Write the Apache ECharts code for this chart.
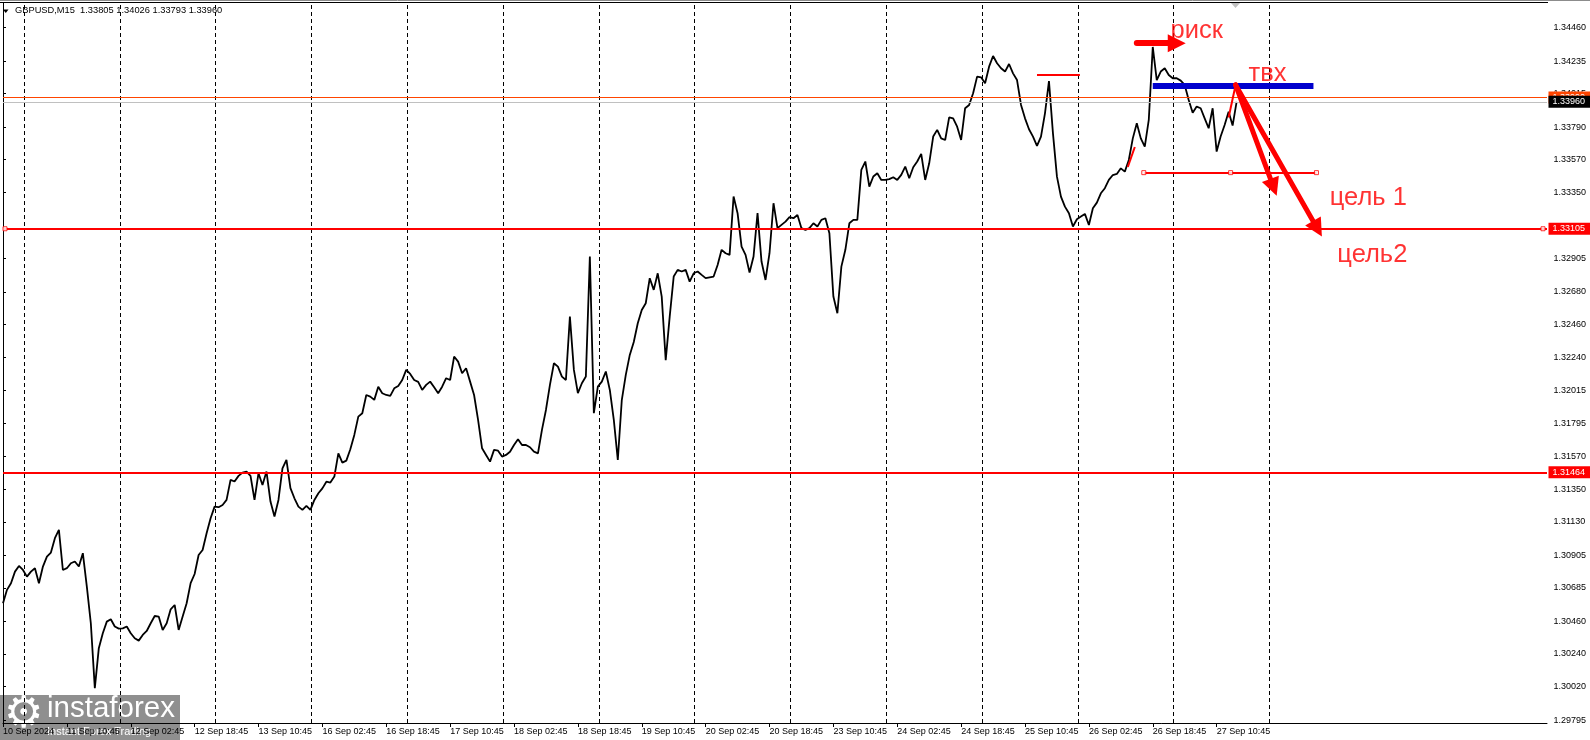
<!DOCTYPE html>
<html><head><meta charset="utf-8">
<script src="https://cdn.jsdelivr.net/npm/echarts@6/dist/echarts.min.js"></script>
<style>html,body{margin:0;padding:0;background:#fff;overflow:hidden}#c{width:1590px;height:740px}</style>
</head><body><div id="c"></div>
<script>
// ---------- data ----------
const symbolTitle = 'GBPUSD,M15';
const lastBarOHLC = [1.33805, 1.34026, 1.33793, 1.33960];
const barStep = 4;            // one close every 4 M15 bars
const closesA = [
1.30582,1.30672,1.30717,1.30795,1.30833,1.30806,1.30761,1.30795,1.30818,1.30717,
1.30829,1.30896,1.30923,1.31020,1.31076,1.30806,1.30818,1.30851,1.30863,1.30829,
1.30919,1.30694,1.30447,1.30010,1.30279,1.30380,1.30458,1.30474,1.30425,1.30411,
1.30413,1.30425,1.30380,1.30346,1.30330,1.30368,1.30395,1.30447,1.30496,1.30492,
1.30402,1.30447,1.30541,1.30570,1.30402,1.30492,1.30582,1.30717,1.30779,1.30907,
1.30941,1.31053,1.31155,1.31233,1.31229,1.31244,1.31278,1.31413,1.31402,1.31440,
1.31462,1.31469,1.31440,1.31278,1.31458,1.31379,1.31469,1.31267,1.31166,1.31278,
1.31491,1.31548,1.31357,1.31289,1.31233,1.31211,1.31238,1.31211];
const closesB = [
1.31278,1.31323,1.31356,1.31401,1.31395,1.31435,1.31592,1.31529,1.31543,1.31619,
1.31716,1.31839,1.31862,1.31985,1.31974,1.31952,1.32041,1.31997,1.31985,1.31979,
1.32030,1.32046,1.32086,1.32154,1.32127,1.32086,1.32073,1.32019,1.32053,1.32075,
1.32037,1.31997,1.32041,1.32098,1.32086,1.32244,1.32210,1.32131,1.32165,1.32075,
1.31985,1.31817,1.31626,1.31581,1.31536,1.31615,1.31610,1.31570,1.31581,1.31603,
1.31648,1.31687,1.31648,1.31648,1.31633,1.31603,1.31592,1.31750,1.31884,1.32053,
1.32199,1.32176,1.32109,1.32086,1.32513,1.32154,1.31997,1.32064,1.32109,1.32918,
1.31862,1.32041,1.32075,1.32143,1.32019,1.31817,1.31547];
const closesC = [
1.31951,1.32120,1.32255,1.32342,1.32468,1.32558,1.32603,1.32772,1.32693,1.32805,
1.32648,1.32219,1.32513,1.32783,1.32828,1.32817,1.32828,1.32749,1.32805,1.32817,
1.32794,1.32772,1.32778,1.32783,1.32861,1.32963,1.32940,1.32929,1.33322,1.33210,
1.32985,1.32929,1.32810,1.32918,1.33210,1.32884,1.32760,1.32940,1.33277,1.33109,
1.33131,1.33153,1.33183,1.33176,1.33198,1.33109,1.33097,1.33109,1.33142,1.33120,
1.33165,1.33176,1.33075,1.32648,1.32536,1.32850,1.32963,1.33142,1.33165,1.33165,
1.33502,1.33558,1.33389,1.33457,1.33479,1.33434,1.33434,1.33439,1.33452,1.33434,
1.33468,1.33524,1.33445,1.33519,1.33558,1.33609,1.33434,1.33546];
const closesD = [
1.33726,1.33771,1.33714,1.33703,1.33856,1.33849,1.33793,1.33703,1.33917,1.33939,
1.34018,1.34130,1.34125,1.34085,1.34197,1.34269,1.34220,1.34186,1.34164,1.34215,
1.34152,1.34107,1.33939,1.33849,1.33775,1.33726,1.33663,1.33726,1.33883,1.34100,
1.33748,1.33456,1.33321,1.33254,1.33209,1.33120,1.33169,1.33187,1.33205,1.33130,
1.33243,1.33281,1.33344,1.33378,1.33434,1.33467,1.33474,1.33512,1.33490,1.33568,
1.33714,1.33816,1.33714,1.33658,1.33838,1.34330,1.34107,1.34164,1.34186,1.34141,
1.34119,1.34119,1.34103,1.34074,1.33973,1.33887,1.33928,1.33917,1.33849,1.33782,
1.33917,1.33625,1.33726,1.33804,1.33894,1.33800,1.33960];

const timeLabels = ['10 Sep 2024','11 Sep 10:45','12 Sep 02:45','12 Sep 18:45','13 Sep 10:45',
 '16 Sep 02:45','16 Sep 18:45','17 Sep 10:45','18 Sep 02:45','18 Sep 18:45','19 Sep 10:45',
 '20 Sep 02:45','20 Sep 18:45','23 Sep 10:45','24 Sep 02:45','24 Sep 18:45','25 Sep 10:45',
 '26 Sep 02:45','26 Sep 18:45','27 Sep 10:45'];
const barsPerLabel = 64;
const firstBarMinuteOfDay = 18 * 60 + 45;
const barMinutes = 15;
const dayGridCount = 14;
const visibleBars = 1547;

const priceTicks = [1.29795,1.30020,1.30240,1.30460,1.30685,1.30905,1.31130,1.31350,1.31570,
 1.31795,1.32015,1.32240,1.32460,1.32680,1.32905,1.33350,1.33570,1.33790,1.34015,1.34235,1.34460];
const priceMin = 1.29775, priceMax = 1.34626;

const levelPrices = [1.33105, 1.31464];
const askPrice = 1.33990, bidPrice = 1.33960;
const levelAnchors = [[2, 1.33105], [1543, 1.33105]];

const shortRedLine = [[1036, 1.34143], [1079, 1.34143]];
const entryLine = [[1152, 1.34071], [1313, 1.34071]];
const target1Line = [[1143, 1.33483], [1316, 1.33483]];
const target1Anchors = [[1143, 1.33483], [1230, 1.33483], [1316, 1.33483]];
const riskArrow = [[1136, 1.34355], [1176, 1.34355]];
const targetArrows = [
  [[1235, 1.34074], [1273, 1.33385]],
  [[1235, 1.34074], [1317, 1.33105]]];
const redFragments = [
  [[1127, 1.33521], [1134, 1.33656]],
  [[1228, 1.33855], [1235, 1.34074]]];
const annotationTexts = [
  ['риск', 1196, 1.34440],
  ['твх', 1267, 1.34147],
  ['цель 1', 1368, 1.33313],
  ['цель2', 1372, 1.32928]];

// ---------- build ----------
const closes = closesA.concat(closesB, closesC, closesD);
const lineData = closes.map((v, i) => [i * barStep, v]);
const labelBars = timeLabels.map((t, i) => i * barsPerLabel);
const barsPerDay = 1440 / barMinutes;
const firstMidnightBar = (1440 - firstBarMinuteOfDay) / barMinutes;
const dayGridBars = Array.from({length: dayGridCount}, (_, i) => firstMidnightBar + i * barsPerDay);
const FONT = 'Liberation Sans';

function boxLabel(text, bg) {
  return {show: true, position: 'end', distance: 1.5, formatter: text, color: '#fff',
    backgroundColor: bg, padding: [1, 6, 1, 4], fontSize: 9, lineHeight: 10, fontFamily: FONT};
}
function hLine(price, color, width, label) {
  return [{coord: [0, price]},
          {coord: [visibleBars, price], lineStyle: {color: color, width: width, type: 'solid'},
           label: label || {show: false}}];
}
function seg(pts, color, width) {
  return [{coord: pts[0]}, {coord: pts[1], lineStyle: {color: color, width: width, type: 'solid'}, label: {show: false}}];
}

const chart = echarts.init(document.getElementById('c'));
chart.setOption({
  animation: false,
  backgroundColor: '#fff',
  grid: {left: 0, top: 3, width: 1547, height: 720, containLabel: false},
  xAxis: {
    type: 'value', min: 0, max: visibleBars,
    axisLine: {show: true, lineStyle: {color: '#000', width: 1}},
    axisTick: {show: true, customValues: labelBars, length: 4, lineStyle: {color: '#000'}},
    axisLabel: {show: true, customValues: labelBars, align: 'left', margin: 4,
      fontSize: 9, fontFamily: FONT, color: '#000',
      formatter: v => timeLabels[Math.round(v / barsPerLabel)] || ''},
    splitLine: {show: false}
  },
  yAxis: {
    type: 'value', position: 'right', min: priceMin, max: priceMax,
    axisLine: {show: true, lineStyle: {color: '#000', width: 1}},
    axisTick: {show: true, customValues: priceTicks, length: 3, lineStyle: {color: '#000'}},
    axisLabel: {show: true, customValues: priceTicks, margin: 6.5, fontSize: 9, fontFamily: FONT,
      color: '#000', formatter: v => v.toFixed(5)},
    splitLine: {show: false}
  },
  series: [
    { // day grid
      type: 'line', data: [], z: 1, silent: true,
      markLine: {silent: true, symbol: ['none', 'none'], animation: false,
        label: {show: false}, lineStyle: {color: '#000', width: 1, type: [4, 3]},
        data: dayGridBars.map(b => [{coord: [b, priceMin]}, {coord: [b, priceMax]}])}
    },
    { // price line
      type: 'line', data: lineData, showSymbol: false, z: 3,
      lineStyle: {color: '#000', width: 1.8}, itemStyle: {color: '#000'}
    },
    { // horizontal levels and drawn segments
      type: 'line', data: [], z: 4, silent: true,
      markLine: {silent: true, symbol: ['none', 'none'], animation: false,
        data: [
          hLine(levelPrices[0], '#ff0000', 2, boxLabel(levelPrices[0].toFixed(5), '#ff0000')),
          hLine(levelPrices[1], '#ff0000', 2, boxLabel(levelPrices[1].toFixed(5), '#ff0000')),
          hLine(askPrice, '#ff4500', 1, boxLabel(askPrice.toFixed(5), '#ff4500')),
          hLine(bidPrice, '#c0c0c0', 1, boxLabel(bidPrice.toFixed(5), '#000')),
          seg(shortRedLine, '#ff0000', 2),
          seg(target1Line, '#ff0000', 2),
          seg(entryLine, '#0000cd', 6)
        ]}
    },
    { // arrows
      type: 'lines', coordinateSystem: 'cartesian2d', z: 5, silent: true,
      symbol: ['none', 'triangle'], symbolSize: 18,
      lineStyle: {color: '#ff0000', width: 5, opacity: 1, cap: 'round'},
      data: [{coords: riskArrow, lineStyle: {width: 6}}].concat(targetArrows.map(c => ({coords: c})))
    },
    { // thin red fragments
      type: 'lines', coordinateSystem: 'cartesian2d', z: 5, silent: true,
      lineStyle: {color: '#ff0000', width: 2, opacity: 1},
      data: redFragments.map(c => ({coords: c}))
    },
    { // anchors
      type: 'scatter', z: 6, silent: true, symbol: 'rect', symbolSize: 4,
      itemStyle: {color: '#fff', borderColor: '#ff0000', borderWidth: 1},
      data: levelAnchors.concat(target1Anchors)
    },
    { // annotation texts
      type: 'scatter', z: 7, silent: true, symbolSize: 0,
      data: annotationTexts.map(t => ({name: t[0], value: [t[1], t[2]]})),
      label: {show: true, position: 'inside', formatter: p => p.name, color: '#ff0000',
        fontSize: 25.5, fontFamily: FONT}
    }
  ],
  graphic: [
    {type: 'line', shape: {x1: 0, y1: 0.5, x2: 1590, y2: 0.5}, style: {stroke: '#8c8c8c', lineWidth: 1}, z: 10},
    {type: 'line', shape: {x1: 0, y1: 2.5, x2: 1548, y2: 2.5}, style: {stroke: '#000', lineWidth: 1}, z: 10},
    {type: 'polygon', shape: {points: [[3, 9.5], [8.5, 9.5], [5.75, 13]]}, style: {fill: '#000'}, z: 10},
    {type: 'text', left: 15, top: 6, z: 10,
      style: {text: symbolTitle + '  ' + lastBarOHLC.map(v => v.toFixed(5)).join(' '), fill: '#000', font: '9.3px "Liberation Sans"'}},
    {type: 'polygon', shape: {points: [[1231, 3], [1240, 3], [1235.5, 8]]}, style: {fill: '#c0c0c0'}, z: 10},
    {type: 'group', z: 20, children: [
      {type: 'rect', shape: {x: 0, y: 695, width: 180, height: 45}, style: {fill: 'rgba(118,118,118,0.82)'}},
      {type: 'text', x: 4, y: 694, style: {text: '\u2699', fill: '#fff', font: '44px "DejaVu Sans"'}},
      {type: 'text', x: 47, y: 724, style: {text: 'instaforex', fill: '#fff', font: '29.5px "Liberation Sans"', verticalAlign: 'bottom'}},
      {type: 'text', x: 47, y: 726, style: {text: 'Instant Forex Trading', fill: '#fff', font: '11px "Liberation Sans"'}}
    ]}
  ]
});
</script></body></html>
